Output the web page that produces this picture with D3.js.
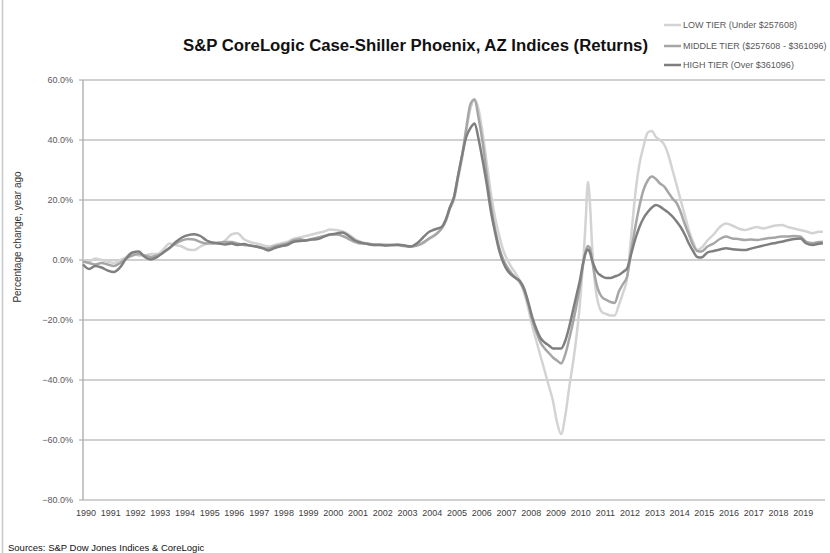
<!DOCTYPE html>
<html>
<head>
<meta charset="utf-8">
<script src="https://cdn.jsdelivr.net/npm/d3@7"></script>
<style>
  body { margin: 0; background: #fff; }
  text { font-family: "Liberation Sans", Arial, sans-serif; }
</style>
</head>
<body>
<svg id="chart" width="830" height="553"></svg>
<script>
// sample dates (quarterly, denser where the curves move fast)
const months = [
  "1990-01","1990-04","1990-07","1990-10", "1991-01","1991-04","1991-07","1991-10",
  "1992-01","1992-04","1992-07","1992-10", "1993-01","1993-04","1993-07","1993-10",
  "1994-01","1994-04","1994-07","1994-10", "1995-01","1995-04","1995-07","1995-10",
  "1996-01","1996-04","1996-07","1996-10", "1997-01","1997-04","1997-07","1997-10",
  "1998-01","1998-04","1998-07","1998-10", "1999-01","1999-04","1999-07","1999-10",
  "2000-01","2000-04","2000-07","2000-10", "2001-01","2001-04","2001-07","2001-10",
  "2002-01","2002-04","2002-07","2002-10", "2003-01","2003-04","2003-07","2003-10",
  "2004-01","2004-03","2004-05","2004-07","2004-09","2004-11",
  "2005-01","2005-03","2005-05","2005-07","2005-09","2005-11",
  "2006-01","2006-03","2006-05","2006-07","2006-09","2006-11",
  "2007-01","2007-03","2007-05","2007-07","2007-09","2007-11",
  "2008-01","2008-03","2008-05","2008-07","2008-09","2008-11",
  "2009-01","2009-03","2009-05","2009-07","2009-09","2009-11",
  "2010-01","2010-02","2010-03","2010-04","2010-05","2010-06",
  "2010-07","2010-08","2010-09","2010-10","2010-11","2010-12",
  "2011-01","2011-03","2011-05","2011-07","2011-09","2011-11",
  "2012-01","2012-03","2012-05","2012-07","2012-09","2012-11",
  "2013-01","2013-03","2013-05","2013-07","2013-09","2013-11",
  "2014-01","2014-03","2014-05","2014-07","2014-09","2014-11",
  "2015-01",
  "2015-04","2015-07","2015-10",
  "2016-01","2016-04","2016-07","2016-10", "2017-01","2017-04","2017-07","2017-10",
  "2018-01","2018-04","2018-07","2018-10", "2019-01","2019-04","2019-07","2019-10",
  "2019-12"
];

const lowTier = [
  0.0, -0.5, 0.5, 0.0,   -0.5, -1.0, 0.0, 1.0,
  2.5, 1.5, 1.5, 2.0,    2.0, 3.5, 5.5, 5.0,
  4.5, 3.5, 3.3, 4.5,    5.5, 6.0, 5.5, 6.5,
  8.5, 8.9, 7.0, 6.0,    5.5, 5.0, 4.5, 5.0,
  5.5, 6.0, 7.0, 7.5,    8.0, 8.5, 9.0, 9.5,
  10.2, 10.0, 9.5, 8.5,  7.0, 6.0, 5.5, 5.0,
  5.0, 5.2, 5.0, 5.0,    4.5, 4.5, 4.8, 5.5,
  7.0, 7.8, 9.0, 10.5, 13, 17,
  20, 27, 34, 43, 50.5, 53.5,
  50, 42, 32, 22, 14, 8,
  3, 0, -2.5, -4.5, -7, -11,
  -16, -22, -27, -32, -37, -42,
  -47, -54, -58, -52, -42, -33,
  -22, -15, -7, 2, 14, 26, 19, 5, -5, -11, -14.5, -16.5,
  -17.5, -18, -18.5, -18.5, -15, -11,
  -6, 8, 22, 32, 38, 42.5,
  43, 41, 40, 38.5, 35, 30,
  25, 20, 15, 10, 6, 3.3,
  4,
  6.5, 8.5, 11,
  12.2, 11.5, 10.5, 10,  10.5, 11, 10.5, 11,
  11.5, 11.7, 11, 10.5,  10, 9.5, 8.9, 9.4,
  9.4
];

const middleTier = [
  -0.5, -1.0, -1.5, -1.0, -1.5, -2.0, -1.0, 0.5,
  1.5, 2.0, 1.5, 1.0,    1.5, 2.5, 4.0, 5.5,
  6.5, 7.0, 6.8, 6.0,    5.5, 5.5, 5.8, 6.0,
  6.0, 5.5, 5.0, 4.8,    4.5, 4.0, 3.8, 4.5,
  5.0, 5.5, 6.5, 7.0,    6.5, 7.0, 7.5, 8.0,
  8.5, 8.5, 8.0, 7.0,    6.0, 5.5, 5.5, 5.2,
  5.2, 5.0, 5.0, 5.2,    4.8, 4.5, 4.8, 5.8,
  7.2, 8.0, 9.0, 10.5, 13, 17.5,
  21, 28, 35, 44, 52, 53.5,
  47, 39, 28, 18, 10, 4,
  0, -2.5, -4.5, -6, -7.5, -10,
  -14.5, -20, -24, -27.5, -29.5, -31,
  -32.5, -33.5, -34.5, -31.5, -26, -20,
  -13, -9, -4.5, 0, 3, 4.7, 4, 0, -4, -7.5, -10, -11.5,
  -12.5, -13.3, -14, -14.3, -10.5, -8,
  -5.5, 3, 11, 18, 23.5, 26.5,
  27.8, 27, 25.5, 24.5, 22.5, 20.5,
  19, 16, 12, 8.5, 5, 3,
  2.8,
  4.5, 5.5, 7,
  7.8, 7.2, 7.0, 6.7,    6.8, 6.7, 7.0, 7.3,
  7.5, 7.8, 7.8, 8.0,    7.8, 6.0, 5.6, 6.0,
  6.1
];

const highTier = [
  -1.5, -3.0, -2.0, -2.5, -3.5, -4.0, -2.5, 0.5,
  2.5, 2.8, 1.0, 0.2,    1.0, 2.5, 4.0, 6.0,
  7.5, 8.3, 8.6, 8.0,    6.5, 5.8, 5.5, 5.2,
  5.5, 5.0, 5.3, 4.8,    4.5, 4.0, 3.2, 4.0,
  4.6, 5.0, 6.0, 6.3,    6.5, 6.8, 7.0, 7.8,
  8.5, 8.8, 9.2, 8.0,    6.5, 5.8, 5.3, 5.0,
  5.0, 4.8, 5.0, 5.0,    4.8, 4.5, 5.5, 7.5,
  9.4, 10.0, 10.5, 11.0, 13.5, 17.5,
  21, 28, 35, 41, 44, 45.5,
  40, 33, 25, 16, 9, 3,
  -1, -3.5, -5, -6, -7, -9.5,
  -14, -19, -23, -26, -27.5, -28.5,
  -29.5, -29.5, -29.5, -27, -22, -16,
  -10, -7, -3.5, 0, 2.5, 3.5, 2.5, 0, -2, -3.5, -4.5, -5,
  -5.5, -6, -6, -5.5, -5, -4,
  -2.8, 2, 7, 11, 14, 16,
  17.5, 18.3, 17.8, 16.8, 15.8, 14.5,
  12.8, 11, 8.5, 5.5, 3, 1,
  0.8,
  2.5, 3.0, 3.5,
  3.9, 3.6, 3.4, 3.3,    3.8, 4.3, 4.8, 5.3,
  5.7, 6.1, 6.6, 7.0,    7.2, 5.5, 5.0, 5.4,
  5.6
];

const yTicks = [60, 40, 20, 0, -20, -40, -60, -80];
const years = [1990, 1991, 1992, 1993, 1994, 1995, 1996, 1997, 1998, 1999,
  2000, 2001, 2002, 2003, 2004, 2005, 2006, 2007, 2008, 2009,
  2010, 2011, 2012, 2013, 2014, 2015, 2016, 2017, 2018, 2019];

const seriesNames = ["LOW TIER (Under $257608)", "MIDDLE TIER ($257608 - $361096)", "HIGH TIER (Over $361096)"];
const seriesColors = ["#d3d3d3", "#a6a6a6", "#7f7f7f"];

const parseMonth = d3.timeParse("%Y-%m");
const dates = months.map(parseMonth);
const series = [lowTier, middleTier, highTier].map((values, i) => ({
  name: seriesNames[i],
  color: seriesColors[i],
  values: values.map((v, j) => ({ date: dates[j], value: v })),
}));

const svg = d3.select("#chart");

const x = d3
  .scaleTime()
  .domain([new Date(1990, 0, 1), new Date(2020, 0, 1)])
  .range([83, 825]);

const y = d3.scaleLinear().domain([-80, 60]).range([500, 80]);

// left frame edge
svg.append("line")
  .attr("x1", 2.5).attr("x2", 2.5)
  .attr("y1", 0).attr("y2", 553)
  .attr("stroke", "#c8c8c8")
  .attr("stroke-width", 1.5);

// gridlines + y labels
svg.append("g")
  .selectAll("line")
  .data(yTicks)
  .join("line")
  .attr("x1", 79)
  .attr("x2", 825)
  .attr("y1", (d) => y(d))
  .attr("y2", (d) => y(d))
  .attr("stroke", "#c0c0c0")
  .attr("stroke-width", 1.4);

svg.append("line")
  .attr("x1", 83).attr("x2", 83)
  .attr("y1", y(60)).attr("y2", y(-80))
  .attr("stroke", "#b0b0b0")
  .attr("stroke-width", 1.4);

svg.append("g")
  .selectAll("text")
  .data(yTicks)
  .join("text")
  .attr("x", 73)
  .attr("y", (d) => y(d))
  .attr("dy", "0.35em")
  .attr("text-anchor", "end")
  .attr("font-size", 9)
  .attr("fill", "#595959")
  .text((d) => d3.format(".1f")(d) + "%");

// year labels
svg.append("g")
  .selectAll("text")
  .data(years)
  .join("text")
  .attr("x", (d) => x(new Date(d, 0, 1)) + 3)
  .attr("y", 516)
  .attr("text-anchor", "middle")
  .attr("font-size", 9)
  .attr("fill", "#404040")
  .text((d) => d);

// lines
const line = d3
  .line()
  .x((d) => x(d.date))
  .y((d) => y(d.value))
  .curve(d3.curveMonotoneX);

svg.append("g")
  .selectAll("path")
  .data(series)
  .join("path")
  .attr("d", (d) => line(d.values))
  .attr("fill", "none")
  .attr("stroke", (d) => d.color)
  .attr("stroke-width", 2.5)
  .attr("stroke-linejoin", "round");

// title
svg.append("text")
  .attr("x", 183)
  .attr("y", 51)
  .attr("font-size", 16)
  .attr("font-weight", "bold")
  .attr("fill", "#111")
  .attr("textLength", 465)
  .attr("lengthAdjust", "spacingAndGlyphs")
  .text("S&P CoreLogic Case-Shiller Phoenix, AZ Indices (Returns)");

// legend
const legendY = [25, 46, 65];
const legend = svg.append("g")
  .selectAll("g")
  .data(series)
  .join("g")
  .attr("transform", (d, i) => `translate(664,${legendY[i]})`);

legend.append("line")
  .attr("x1", 0).attr("x2", 17)
  .attr("stroke", (d) => d.color)
  .attr("stroke-width", 2.5);

legend.append("text")
  .attr("x", 19)
  .attr("dy", "0.35em")
  .attr("font-size", 9)
  .attr("fill", "#595959")
  .text((d) => d.name);

// axis title
svg.append("text")
  .attr("transform", "translate(21,237) rotate(-90)")
  .attr("text-anchor", "middle")
  .attr("font-size", 10)
  .attr("fill", "#333")
  .text("Percentage change, year ago");

// source
svg.append("text")
  .attr("x", 8)
  .attr("y", 551)
  .attr("font-size", 9.5)
  .attr("fill", "#111")
  .text("Sources: S&P Dow Jones Indices & CoreLogic");
</script>
</body>
</html>
